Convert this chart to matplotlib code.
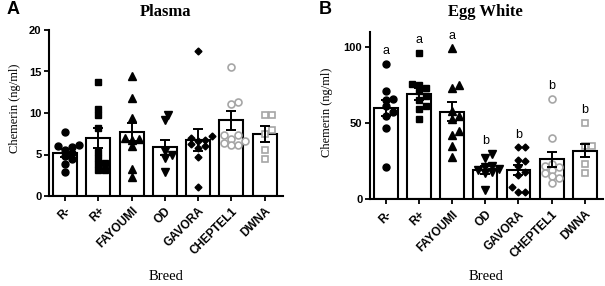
import matplotlib.pyplot as plt
import numpy as np

plt.rcParams['font.family'] = 'Liberation Sans'

breeds = ['R-', 'R+', 'FAYOUMI', 'OD', 'GAVORA', 'CHEPTEL1', 'DWNA']

# Plasma chemerin (ng/ml), individual birds per breed
plasma_points = [
    [7.7, 6.1, 6.0, 5.9, 5.5, 5.2, 4.8, 4.4, 3.9, 2.9],
    [13.7, 10.5, 9.7, 8.2, 5.3, 4.6, 4.0, 3.8, 3.1, 3.1],
    [14.5, 11.8, 9.4, 7.0, 6.9, 6.7, 6.0, 3.3, 2.3],
    [9.8, 9.2, 5.4, 5.0, 4.6, 2.9],
    [17.5, 7.2, 7.0, 6.8, 6.6, 6.3, 6.0, 5.8, 4.7, 1.1],
    [15.6, 11.3, 11.1, 7.4, 7.3, 6.9, 6.6, 6.4, 6.2, 6.2],
    [9.8, 9.8, 8.0, 7.5, 5.6, 4.4],
]
plasma_mean = [5.2, 7.0, 7.7, 5.9, 6.75, 9.1, 7.5]
plasma_sem = [0.5, 1.2, 1.1, 0.9, 1.3, 1.1, 0.95]

# Egg white chemerin (ng/ml)
egg_points = [
    [89, 71, 66, 65, 61, 57, 55, 47, 21],
    [96, 76, 75, 73, 71, 68, 65, 61, 59, 53],
    [99, 75, 73, 58, 55, 53, 45, 42, 35, 28],
    [30, 27, 22, 21, 20, 19, 18, 17, 6],
    [34, 34, 26, 25, 22, 18, 16, 8, 5, 5],
    [66, 40, 23, 22, 21, 19, 17, 15, 14, 11],
    [50, 35, 35, 23, 17],
]
egg_mean = [59.9, 69.0, 57.6, 19.3, 19.3, 26.3, 32.0]
egg_sem = [5.0, 4.0, 6.5, 2.6, 3.3, 4.8, 4.5]
egg_letters = ['a', 'a', 'a', 'b', 'b', 'b', 'b']

# marker style per breed (GraphPad-like)
styles = [
    dict(marker='o', ms=5, mfc='black', mec='black'),
    dict(marker='s', ms=5, mfc='black', mec='black'),
    dict(marker='^', ms=5.5, mfc='black', mec='black'),
    dict(marker='v', ms=5.5, mfc='black', mec='black'),
    dict(marker='D', ms=3.5, mfc='black', mec='black'),
    dict(marker='o', ms=5, mfc='white', mec='#a6a6a6', mew=1.2),
    dict(marker='s', ms=5, mfc='white', mec='#a6a6a6', mew=1.2),
]

W, H = 605, 286
fig = plt.figure(figsize=(W / 100, H / 100), dpi=100)


def px_axes(left, top, right, bottom):
    return fig.add_axes([left / W, 1 - bottom / H, (right - left) / W, (bottom - top) / H])


def swarm_offsets(ax, x0, values, size_px):
    """Simple deterministic beeswarm: spread overlapping points sideways."""
    ys = ax.transData.transform([(x0, v) for v in values])[:, 1]
    px_per_x = ax.transData.transform((1, 0))[0] - ax.transData.transform((0, 0))[0]
    placed = []
    offsets = np.zeros(len(values))
    for i in np.argsort(ys):
        y = ys[i]
        dx = 0.0
        for k in range(0, 30):
            cands = [0] if k == 0 else [k, -k]
            found = False
            for c in cands:
                dx = c * size_px * 0.6
                if all((dx - pdx) ** 2 + (y - py) ** 2 >= size_px ** 2 for pdx, py in placed):
                    found = True
                    break
            if found:
                break
        placed.append((dx, y))
        offsets[i] = dx / px_per_x
    return offsets


def draw_panel(ax, points, means, sems, ymax, yticks):
    x = np.arange(len(breeds))
    ax.set_xlim(-0.48, 6.55)
    ax.set_ylim(0, ymax)
    ax.bar(x, means, width=0.72, color='white', edgecolor='black', linewidth=1.5, zorder=1)
    for i, vals in enumerate(points):
        offs = swarm_offsets(ax, x[i], vals, 5.8)
        ax.plot(x[i] + offs, vals, ls='none', zorder=2, **styles[i])
    ax.errorbar(x, means, yerr=sems, fmt='none', ecolor='black', elinewidth=1.4,
                capsize=3.6, capthick=1.4, zorder=3)

    for side in ['top', 'right']:
        ax.spines[side].set_visible(False)
    for side in ['left', 'bottom']:
        ax.spines[side].set_linewidth(1.5)
    ax.set_yticks(yticks)
    ax.set_xticks(x)
    ax.set_xticklabels(breeds, rotation=45, ha='right', rotation_mode='anchor')
    ax.tick_params(axis='both', direction='out', length=3.5, width=1.3, labelsize=8, pad=2)
    ax.tick_params(axis='x', labelsize=8.5, pad=3)
    for lab in ax.get_xticklabels() + ax.get_yticklabels():
        lab.set_fontweight('bold')


# --- Panel A: Plasma ---
axA = px_axes(49, 30, 283, 196)
draw_panel(axA, plasma_points, plasma_mean, plasma_sem, 20, [0, 5, 10, 15, 20])

# --- Panel B: Egg White ---
axB = px_axes(370, 31.7, 603, 199.3)
draw_panel(axB, egg_points, egg_mean, egg_sem, 110, [0, 50, 100])
for i, letter in enumerate(egg_letters):
    axB.annotate(letter, (i, max(egg_points[i])), xytext=(0, 5), textcoords='offset points',
                 ha='center', va='bottom', fontsize=9)

serif = 'Liberation Serif'
fig.text(166 / W, 1 - 12 / H, 'Plasma', ha='center', va='center', family=serif,
         fontsize=12, fontweight='bold')
fig.text(485 / W, 1 - 12 / H, 'Egg White', ha='center', va='center', family=serif,
         fontsize=12, fontweight='bold')
fig.text(15 / W, 1 - 108 / H, 'Chemerin (ng/ml)', rotation=90, ha='center', va='center',
         family=serif, fontsize=9)
fig.text(327 / W, 1 - 112 / H, 'Chemerin (ng/ml)', rotation=90, ha='center', va='center',
         family=serif, fontsize=9)
fig.text(166 / W, 1 - 277 / H, 'Breed', ha='center', va='center', family=serif, fontsize=10.5)
fig.text(486 / W, 1 - 277 / H, 'Breed', ha='center', va='center', family=serif, fontsize=10.5)
fig.text(13 / W, 1 - 9 / H, 'A', ha='center', va='center', fontsize=13, fontweight='bold')
fig.text(325 / W, 1 - 9 / H, 'B', ha='center', va='center', fontsize=13, fontweight='bold')

fig.savefig('out.png', dpi=100)
